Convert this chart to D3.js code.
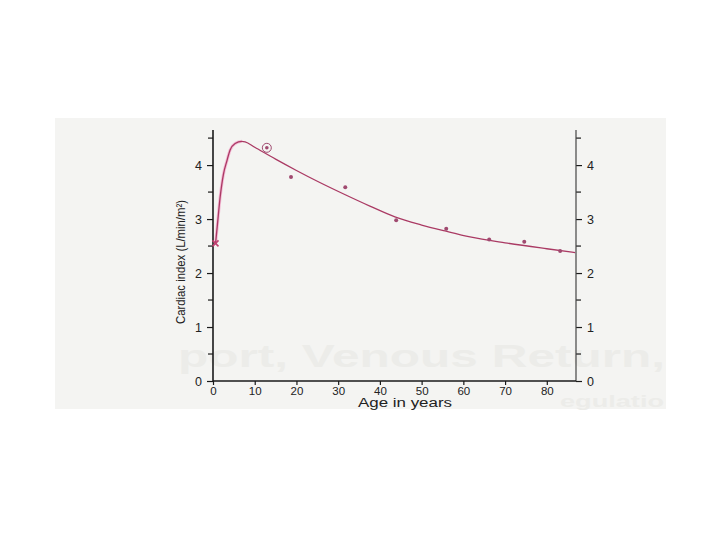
<!DOCTYPE html>
<html>
<head>
<meta charset="utf-8">
<script src="https://cdn.jsdelivr.net/npm/d3@7"></script>
<style>
  html, body { margin: 0; padding: 0; background: #ffffff; }
  svg { display: block; }
  text { font-family: Arial, "Liberation Sans", Helvetica, sans-serif; }
</style>
</head>
<body>
<svg id="chart" width="720" height="540"></svg>
<script>
// ---- Data ----
const xTicks = [0, 10, 20, 30, 40, 50, 60, 70, 80];
const yTicks = [0, 1, 2, 3, 4];
const yMinorTicks = [0.5, 1.5, 2.5, 3.5, 4.5];

// fitted curve (age in years, cardiac index)
const curveAge   = [0.6, 1.0, 1.7, 2.5, 3.3, 4.1, 5.3, 6.9, 7.7, 10, 15, 20, 25, 31.7, 37.6, 43.6, 50, 55.6, 61.6, 70, 80, 86.8];
const curveIndex = [2.54, 2.85, 3.40, 3.83, 4.07, 4.28, 4.40, 4.44, 4.43, 4.33, 4.11, 3.90, 3.70, 3.45, 3.24, 3.04, 2.89, 2.78, 2.67, 2.56, 2.45, 2.38];

// observed data points
const pointAge   = [18.7, 31.7, 43.9, 55.9, 66.2, 74.6, 83.2];
const pointIndex = [3.78, 3.59, 2.98, 2.82, 2.62, 2.58, 2.41];

// special markers
const circledAge = [12.9], circledIndex = [4.32];
const crossAge = [0.6], crossIndex = [2.55];

const xLabel = "Age in years";
const yLabel = "Cardiac index (L/min/m\u00B2)";
const watermark1 = "port, Venous Return,";
const watermark2 = "egulatio";

// ---- Layout ----
const svg = d3.select("#chart");
const pLeft = 213, pRight = 576, pTop = 130, pBottom = 381;

const x = d3.scaleLinear().domain([0, 87]).range([pLeft, pRight]);
const y = d3.scaleLinear().domain([0, 4.65]).range([pBottom, pTop]);

// scanned page background
svg.append("rect").attr("x", 55).attr("y", 118).attr("width", 611).attr("height", 291)
  .attr("fill", "#f4f4f2");

// faint watermark show-through (behind the chart)
const wm = svg.append("g").attr("fill", "#ecece9")
  .style("font-family", "'DejaVu Serif', 'Liberation Serif', serif")
  .style("font-weight", "bold");
wm.append("text").attr("x", 178).attr("y", 367).attr("font-size", 32)
  .attr("textLength", 487).attr("lengthAdjust", "spacingAndGlyphs").text(watermark1);
wm.append("text").attr("x", 560).attr("y", 407).attr("font-size", 16)
  .attr("textLength", 104).attr("lengthAdjust", "spacingAndGlyphs").text(watermark2);

const axisColor = "#1a1a1a";

// left axis
const yAxisL = d3.axisLeft(y).tickValues(yTicks).tickFormat(d3.format("d")).tickSize(6).tickPadding(5);
const gL = svg.append("g").attr("transform", `translate(${pLeft},0)`).call(yAxisL);
gL.append("g").selectAll("line").data(yMinorTicks).join("line")
  .attr("x1", 0).attr("x2", -5).attr("y1", d => y(d)).attr("y2", d => y(d));

// right axis
const yAxisR = d3.axisRight(y).tickValues(yTicks).tickFormat(d3.format("d")).tickSize(6).tickPadding(5);
const gR = svg.append("g").attr("transform", `translate(${pRight},0)`).call(yAxisR);
gR.append("g").selectAll("line").data(yMinorTicks).join("line")
  .attr("x1", 0).attr("x2", 5).attr("y1", d => y(d)).attr("y2", d => y(d));

// bottom axis
const xAxis = d3.axisBottom(x).tickValues(xTicks).tickFormat(d3.format("d")).tickSize(4).tickPadding(2);
const gB = svg.append("g").attr("transform", `translate(0,${pBottom})`).call(xAxis);

[gL, gR, gB].forEach(g => {
  g.select(".domain").remove();
  g.selectAll("line").attr("stroke", axisColor).attr("stroke-width", 1.2);
  g.selectAll("text").attr("fill", "#222").attr("font-size", 12.5);
});
gB.selectAll("text").attr("font-size", 11.5);
// axis lines
svg.append("line").attr("x1", pLeft).attr("x2", pLeft).attr("y1", pTop).attr("y2", pBottom)
  .attr("stroke", axisColor).attr("stroke-width", 1.6);
svg.append("line").attr("x1", pRight).attr("x2", pRight).attr("y1", pTop).attr("y2", pBottom)
  .attr("stroke", "#444").attr("stroke-width", 1.2);
svg.append("line").attr("x1", pLeft).attr("x2", pRight).attr("y1", pBottom).attr("y2", pBottom)
  .attr("stroke", axisColor).attr("stroke-width", 1.6);

// axis titles
svg.append("text").attr("x", 405).attr("y", 407).attr("text-anchor", "middle")
  .attr("font-size", 12).attr("fill", "#222")
  .attr("textLength", 94).attr("lengthAdjust", "spacingAndGlyphs").text(xLabel);
svg.append("text")
  .attr("transform", `translate(185,${262}) rotate(-90)`)
  .attr("text-anchor", "middle").attr("font-size", 13).attr("fill", "#222")
  .attr("textLength", 124).attr("lengthAdjust", "spacingAndGlyphs")
  .text(yLabel);

// curve
const curveData = curveAge.map((a, i) => [a, curveIndex[i]]);
const line = d3.line().x(d => x(d[0])).y(d => y(d[1])).curve(d3.curveMonotoneX);
svg.append("path").datum(curveData.slice(0, 8)).attr("d", line)
  .attr("fill", "none").attr("stroke", "#f2a0c8").attr("stroke-width", 3).attr("opacity", 0.7);
svg.append("path").datum(curveData).attr("d", line)
  .attr("fill", "none").attr("stroke", "#aa3a64").attr("stroke-width", 1.3);

// points
const pts = pointAge.map((a, i) => [a, pointIndex[i]]);
svg.append("g").selectAll("circle").data(pts).join("circle")
  .attr("cx", d => x(d[0])).attr("cy", d => y(d[1])).attr("r", 2)
  .attr("fill", "#a04a70");

// circled point
const circ = circledAge.map((a, i) => [a, circledIndex[i]]);
const cg = svg.append("g").selectAll("g").data(circ).join("g")
  .attr("transform", d => `translate(${x(d[0])},${y(d[1])})`);
cg.append("circle").attr("r", 4.5).attr("fill", "none").attr("stroke", "#a04a70").attr("stroke-width", 1);
cg.append("circle").attr("r", 1.8).attr("fill", "#a04a70");

// cross marker at birth
const cross = crossAge.map((a, i) => [a, crossIndex[i]]);
const xg = svg.append("g").selectAll("g").data(cross).join("g")
  .attr("transform", d => `translate(${x(d[0])},${y(d[1])})`)
  .attr("stroke", "#c04070").attr("stroke-width", 1.6);
xg.append("line").attr("x1", -3).attr("y1", -3).attr("x2", 3).attr("y2", 3);
xg.append("line").attr("x1", -3).attr("y1", 3).attr("x2", 3).attr("y2", -3);
</script>
</body>
</html>
